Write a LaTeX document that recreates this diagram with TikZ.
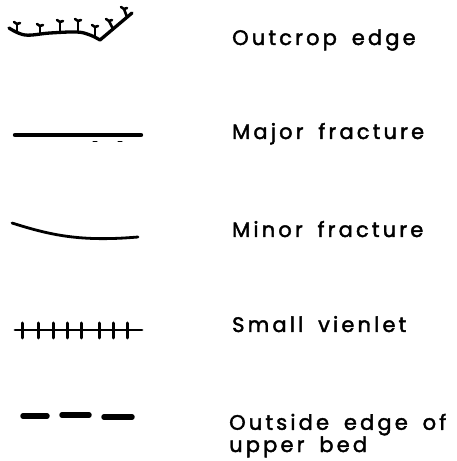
\documentclass[tikz,border=0pt]{standalone}
\usepackage{fontspec}
\setsansfont{Poppins}[LetterSpace=15, WordSpace=1.7, FakeBold=2]
\usetikzlibrary{positioning}

\begin{document}
\begin{tikzpicture}[x=1pt, y=1pt, line cap=round, line join=round,
      lbl/.style={font=\sffamily\fontsize{21}{21}\selectfont, anchor=base west,
                  inner sep=0pt, align=left},
      sym/.style={line width=2.8pt},
      tick/.style={line width=2.6pt}]

    \useasboundingbox (0,0) rectangle (456,461);
    \def\lx{232} % label column

    % === Outcrop edge ===
    \draw[sym, line width=3.3pt] plot[smooth, tension=0.6] coordinates
        {(9,433) (25,426) (50,428) (77,429) (90,426) (100,421)} -- (132,448);
    \foreach \bx/\by/\tx/\ty in {17/430/17/437, 40/428/40/435, 60/429/60/439,
                                 78/429/78/440, 95/425/95/434, 113/432/109/440,
                                 127/444/124/452} {
        \draw[tick] (\bx,\by) -- (\tx,\ty);
        \draw[tick] (\tx-3,\ty+2) -- (\tx,\ty) -- (\tx+3,\ty+1);
    }
    \node[lbl] (outcrop) at (\lx,416) {Outcrop edge};

    % === Major fracture ===
    \draw[line width=4.4pt] (15,326) -- (141,326);
    \draw[line width=1pt] (93,319) -- (97,319);
    \draw[line width=1pt] (118,319) -- (122,319);
    \node[lbl] (major) at (\lx,322) {Major fracture};

    % === Minor fracture ===
    \draw[sym] (12,238) .. controls (50,226) and (80,219) .. (138,224);
    \node[lbl] (minor) at (\lx,224) {Minor fracture};

    % === Small vienlet ===
    \draw[sym] (15,131) -- (142,131);
    \foreach \vx in {22,38,53,67,81,99,113,127}
        \draw[sym, line width=3pt] (\vx,123) -- (\vx,138);
    \node[lbl] (vienlet) at (\lx,129) {Small vienlet};

    % === Outside edge of upper bed ===
    \draw[line width=5.5pt] (23,45) -- (47,45);
    \draw[line width=5.5pt] (62,46) -- (89,46);
    \draw[line width=5.5pt] (104,44) -- (132,44);
    \node[lbl] (outside) at (\lx-3,9) {Outside edge of\\upper bed};

\end{tikzpicture}
\end{document}
